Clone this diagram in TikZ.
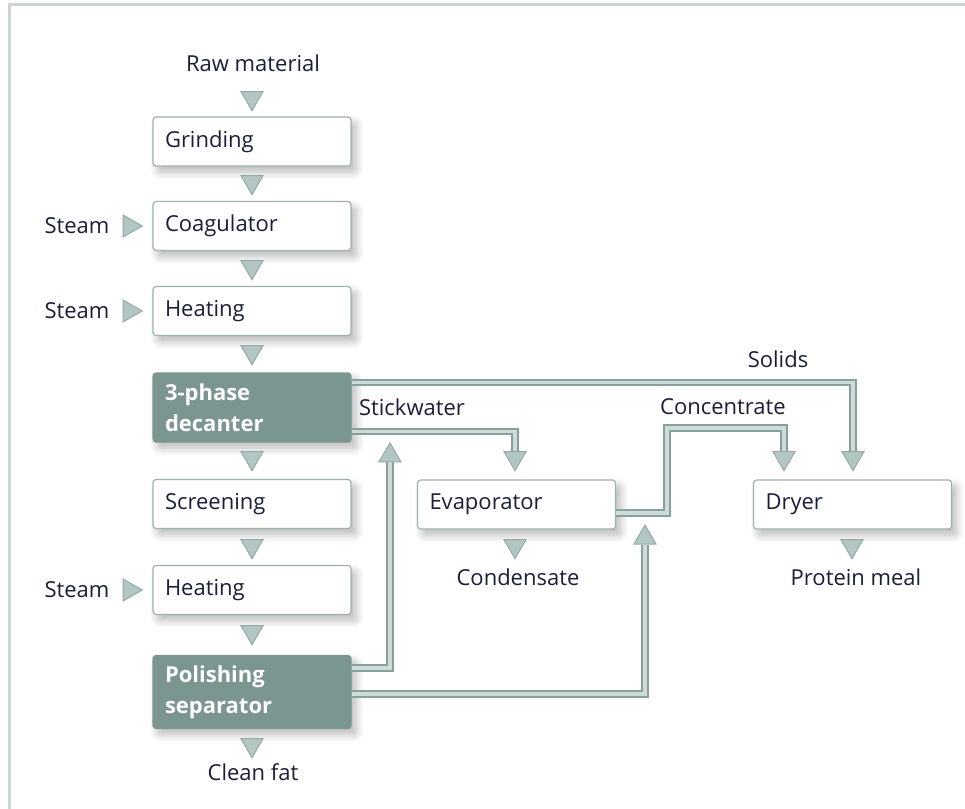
\documentclass[tikz,border=0pt]{standalone}
\usepackage{fontspec}
\setmainfont{Open Sans}
\usetikzlibrary{shapes.geometric,shadows.blur}

\definecolor{txt}{HTML}{1A1F38}
\definecolor{boxline}{HTML}{9FB2AF}
\definecolor{darkbox}{HTML}{7B9590}
\definecolor{tipfill}{HTML}{B4C6C3}
\definecolor{tipline}{HTML}{94AAA7}
\definecolor{pipeout}{HTML}{87A09C}
\definecolor{pipein}{HTML}{CFDBD9}
\definecolor{framegray}{HTML}{CAD5D4}

\tikzset{
  stage/.style={draw=boxline, fill=white, rounded corners=1.5pt, line width=0.6pt,
    text width=87pt, inner xsep=6pt, inner ysep=0pt, minimum height=24.5pt,
    align=left, text=txt, font=\fontsize{11}{15.5}\selectfont,
    blur shadow={shadow xshift=2.5pt, shadow yshift=-3pt, shadow opacity=28, shadow blur steps=8, shadow blur radius=4pt}},
  darkstage/.style={stage, fill=darkbox, draw=darkbox, text=white,
    font=\bfseries\fontsize{11}{15.5}\selectfont},
  tag/.style={text=txt, font=\fontsize{11}{13}\selectfont, inner sep=0pt,
    text height=7.8pt, text depth=0pt},
  downtip/.style={regular polygon, regular polygon sides=3, regular polygon rotate=180,
    minimum size=12.7pt, inner sep=0pt, fill=tipfill, draw=tipline, line width=0.5pt},
  uptip/.style={downtip, regular polygon rotate=0},
  righttip/.style={downtip, regular polygon rotate=-90},
  pipe/.style={draw=pipeout, line width=1pt, double=pipein, double distance=1.6pt},
}

\begin{document}
\begin{tikzpicture}[x=0.5pt, y=-0.5pt]
    \useasboundingbox (0,0) rectangle (965,809);

    % Frame
    \draw[framegray, line width=1.5pt] (965,4.5) -- (9,4.5) -- (9,809);

    % Main line
    \node[tag] (raw) at (253,64) {Raw material};
    \node[stage] (grind) at (252,141.5) {Grinding};
    \node[stage] (coag) at (252,226) {Coagulator};
    \node[stage] (heatA) at (252,311) {Heating};
    \node[darkstage, minimum height=34.5pt] (decanter) at (252,407.5) {3-phase\\decanter};
    \node[stage] (screen) at (252,504) {Screening};
    \node[stage] (heatB) at (252,590) {Heating};
    \node[darkstage, minimum height=36.5pt] (polish) at (252,692) {Polishing\\separator};
    \node[tag] (fat) at (253,773) {Clean fat};

    % Right side
    \node[stage] (evap) at (516.5,504.5) {Evaporator};
    \node[tag] (cond) at (518,578) {Condensate};
    \node[stage] (dryer) at (852.5,504.5) {Dryer};
    \node[tag] (meal) at (856,578) {Protein meal};

    % Steam inlets
    \node[tag] (steamA) at (77,226) {Steam};
    \node[tag] (steamB) at (77,311) {Steam};
    \node[tag] (steamC) at (77,590) {Steam};
    \node[righttip] (sA) at (129.4,226) {};
    \node[righttip] (sB) at (129.4,311) {};
    \node[righttip] (sC) at (129.4,590) {};

    % Triangles between stages
    \node[downtip] (t0) at (252,98) {};
    \node[downtip] (t1) at (252,182) {};
    \node[downtip] (t2) at (252,267) {};
    \node[downtip] (t3) at (252,352) {};
    \node[downtip] (t4) at (252,458) {};
    \node[downtip] (t5) at (252,546) {};
    \node[downtip] (t6) at (252,632) {};
    \node[downtip] (t7) at (252,745) {};
    \node[downtip] (te) at (515,546) {};
    \node[downtip] (td) at (852,546) {};

    % Pipe ends
    \node[downtip] (sticktip) at (515,458) {};
    \node[downtip] (conctip) at (784,458) {};
    \node[downtip] (solidtip) at (853,458) {};
    \node[uptip] (backA) at (390,455.6) {};
    \node[uptip] (backB) at (645,537.7) {};

    % Pipes
    \draw[pipe] ([yshift=-5pt]decanter.north east) -| (solidtip.north);
    \draw[pipe] ([yshift=5.5pt]decanter.south east) -| (sticktip.north);
    \draw[pipe] ([yshift=-6.5pt]polish.north east) -| (backA.south);
    \draw[pipe] ([yshift=-19.5pt]polish.north east) -| (backB.south);
    \coordinate (cbend) at (667,428);
    \draw[pipe] ([yshift=-4.25pt]evap.east) -| (cbend) -| (conctip.north);

    % Pipe labels
    \node[tag] (solids) at (778,360) {Solids};
    \node[tag] (stick) at (412,408) {Stickwater};
    \node[tag] (conc) at (723,407) {Concentrate};
\end{tikzpicture}
\end{document}
